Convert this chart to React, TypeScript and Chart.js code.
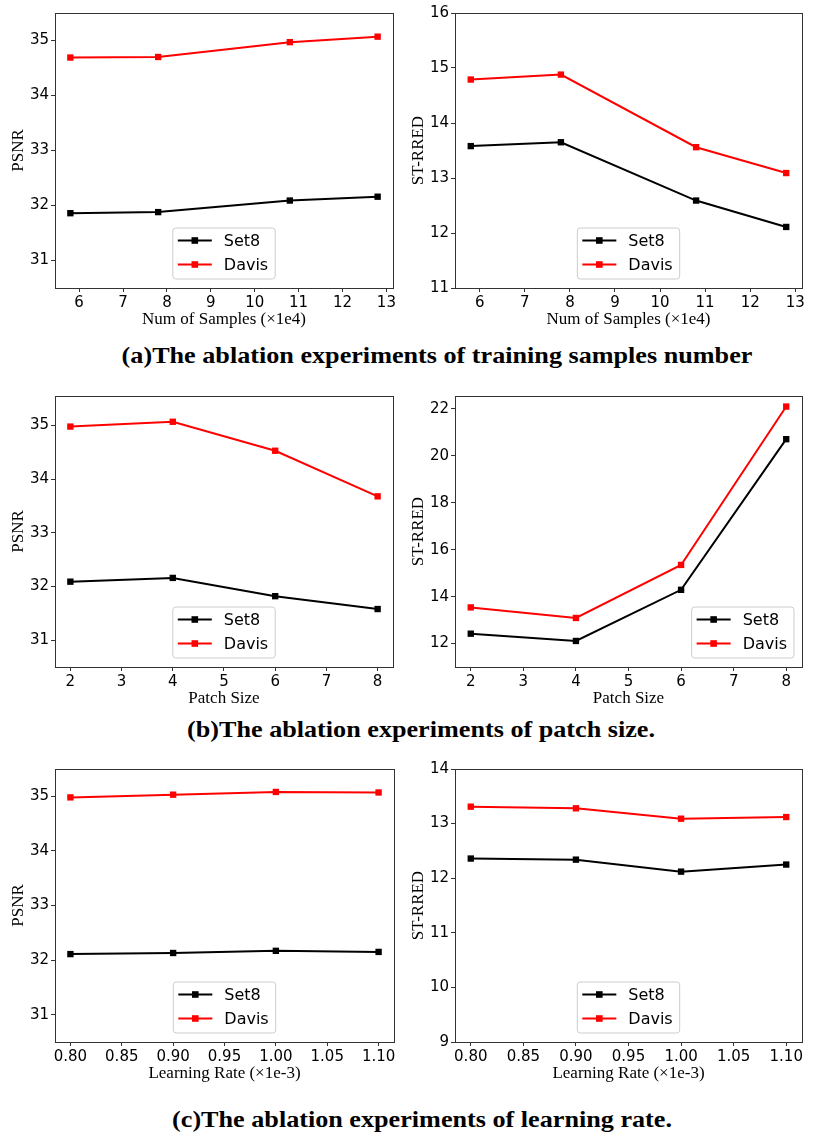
import React, { useEffect, useRef } from 'react';
import { Chart, registerables } from 'chart.js';

Chart.register(...registerables);

// ---------- data ----------
const seriesNames = ['Set8', 'Davis'];
const seriesColors = ['#000000', '#ff0000'];

const samplesX = [5.8, 7.8, 10.8, 12.8];
const samplesPsnrSet8 = [31.86, 31.88, 32.09, 32.16];
const samplesPsnrDavis = [34.69, 34.7, 34.97, 35.07];
const samplesRredSet8 = [13.58, 13.65, 12.59, 12.11];
const samplesRredDavis = [14.79, 14.88, 13.56, 13.09];

const patchX = [2, 4, 6, 8];
const patchPsnrSet8 = [32.09, 32.16, 31.82, 31.58];
const patchPsnrDavis = [34.98, 35.07, 34.53, 33.68];
const patchRredSet8 = [12.42, 12.11, 14.29, 20.71];
const patchRredDavis = [13.54, 13.09, 15.35, 22.1];

const lrX = [0.8, 0.9, 1.0, 1.1];
const lrPsnrSet8 = [32.11, 32.13, 32.17, 32.15];
const lrPsnrDavis = [34.98, 35.03, 35.08, 35.07];
const lrRredSet8 = [12.36, 12.34, 12.12, 12.25];
const lrRredDavis = [13.31, 13.28, 13.09, 13.12];

const samplesXTicks = [6, 7, 8, 9, 10, 11, 12, 13];
const patchXTicks = [2, 3, 4, 5, 6, 7, 8];
const lrXTicks = [0.8, 0.85, 0.9, 0.95, 1.0, 1.05, 1.1];
const psnrYTicks = [31, 32, 33, 34, 35];
const samplesRredYTicks = [11, 12, 13, 14, 15, 16];
const patchRredYTicks = [12, 14, 16, 18, 20, 22];
const lrRredYTicks = [9, 10, 11, 12, 13, 14];

const captions = [
  '(a)The ablation experiments of training samples number',
  '(b)The ablation experiments of patch size.',
  '(c)The ablation experiments of learning rate.',
];

// ---------- plugins ----------
const framePlugin = {
  id: 'frame',
  afterDatasetsDraw(chart: any) {
    const { ctx, chartArea: ca } = chart;
    ctx.save();
    ctx.strokeStyle = '#333';
    ctx.lineWidth = 1;
    const l = Math.round(ca.left) + 0.5;
    const t = Math.round(ca.top) + 0.5;
    const r = Math.round(ca.right) + 0.5;
    const b = Math.round(ca.bottom) + 0.5;
    ctx.strokeRect(l, t, r - l, b - t);
    ctx.restore();
  },
};

const boxLegendPlugin = {
  id: 'boxLegend',
  afterDraw(chart: any, _args: any, opts: any) {
    const { ctx, chartArea: ca } = chart;
    ctx.save();
    ctx.font = '16px "DejaVu Sans"';
    const items = chart.data.datasets.map((d: any) => ({ label: d.label, color: d.borderColor }));
    const textW = Math.max(...items.map((i: any) => ctx.measureText(i.label).width));
    const boxW = 51 + textW + 7;
    const boxH = 51;
    const left = opts.position === 'right' ? ca.right - 8 - boxW : (ca.left + ca.right) / 2 - boxW / 2;
    const top = ca.bottom - 9 - boxH;
    ctx.beginPath();
    const rr = 3;
    ctx.moveTo(left + rr, top);
    ctx.arcTo(left + boxW, top, left + boxW, top + boxH, rr);
    ctx.arcTo(left + boxW, top + boxH, left, top + boxH, rr);
    ctx.arcTo(left, top + boxH, left, top, rr);
    ctx.arcTo(left, top, left + boxW, top, rr);
    ctx.closePath();
    ctx.fillStyle = 'rgba(255,255,255,0.8)';
    ctx.fill();
    ctx.strokeStyle = '#cccccc';
    ctx.lineWidth = 1;
    ctx.stroke();
    items.forEach((it: any, i: number) => {
      const cy = top + 12.5 + 24 * i;
      ctx.strokeStyle = it.color;
      ctx.lineWidth = 2;
      ctx.beginPath();
      ctx.moveTo(left + 5, cy);
      ctx.lineTo(left + 39, cy);
      ctx.stroke();
      ctx.fillStyle = it.color;
      ctx.fillRect(left + 22 - 3.3, cy - 3.3, 6.6, 6.6);
      ctx.fillStyle = '#000';
      ctx.textBaseline = 'middle';
      ctx.textAlign = 'left';
      ctx.fillText(it.label, left + 51, cy + 1);
    });
    ctx.restore();
  },
};

// ---------- chart specs ----------
type Spec = {
  left: number; top: number; w: number; h: number; rightPad: number;
  x: number[]; set8: number[]; davis: number[];
  xTicks: number[]; yTicks: number[]; xDec: number;
  xMin: number; xMax: number; yMin: number; yMax: number;
  xTitle: string; yTitle: string; legendPos: string;
};

const specs: Spec[] = [
  { left: 0, top: 0, w: 400, h: 335, rightPad: 7, x: samplesX, set8: samplesPsnrSet8, davis: samplesPsnrDavis,
    xTicks: samplesXTicks, yTicks: psnrYTicks, xDec: 0, xMin: 5.45, xMax: 13.15, yMin: 30.5, yMax: 35.5,
    xTitle: 'Num of Samples (×1e4)', yTitle: 'PSNR', legendPos: 'center' },
  { left: 400, top: 0, w: 430, h: 335, rightPad: 28, x: samplesX, set8: samplesRredSet8, davis: samplesRredDavis,
    xTicks: samplesXTicks, yTicks: samplesRredYTicks, xDec: 0, xMin: 5.45, xMax: 13.15, yMin: 11, yMax: 16,
    xTitle: 'Num of Samples (×1e4)', yTitle: 'ST-RRED', legendPos: 'center' },
  { left: 0, top: 383, w: 400, h: 331, rightPad: 7, x: patchX, set8: patchPsnrSet8, davis: patchPsnrDavis,
    xTicks: patchXTicks, yTicks: psnrYTicks, xDec: 0, xMin: 1.7, xMax: 8.3, yMin: 30.5, yMax: 35.55,
    xTitle: 'Patch Size', yTitle: 'PSNR', legendPos: 'center' },
  { left: 400, top: 383, w: 430, h: 331, rightPad: 28, x: patchX, set8: patchRredSet8, davis: patchRredDavis,
    xTicks: patchXTicks, yTicks: patchRredYTicks, xDec: 0, xMin: 1.7, xMax: 8.3, yMin: 11, yMax: 22.55,
    xTitle: 'Patch Size', yTitle: 'ST-RRED', legendPos: 'right' },
  { left: 0, top: 756, w: 400, h: 333, rightPad: 6, x: lrX, set8: lrPsnrSet8, davis: lrPsnrDavis,
    xTicks: lrXTicks, yTicks: psnrYTicks, xDec: 2, xMin: 0.785, xMax: 1.115, yMin: 30.5, yMax: 35.5,
    xTitle: 'Learning Rate (×1e-3)', yTitle: 'PSNR', legendPos: 'center' },
  { left: 400, top: 756, w: 430, h: 333, rightPad: 28, x: lrX, set8: lrRredSet8, davis: lrRredDavis,
    xTicks: lrXTicks, yTicks: lrRredYTicks, xDec: 2, xMin: 0.785, xMax: 1.115, yMin: 9, yMax: 14,
    xTitle: 'Learning Rate (×1e-3)', yTitle: 'ST-RRED', legendPos: 'center' },
];

const tickFont = { family: '"DejaVu Sans"', size: 15 };
const titleFont = { family: '"Liberation Serif", "Times New Roman", serif', size: 17 };

function LineChart({ spec }: { spec: Spec }) {
  const ref = useRef<HTMLCanvasElement | null>(null);
  useEffect(() => {
    if (!ref.current) return;
    const series = [spec.set8, spec.davis];
    const chart = new Chart(ref.current, {
      type: 'line',
      data: {
        datasets: series.map((vals, si) => ({
          label: seriesNames[si],
          data: spec.x.map((xv, i) => ({ x: xv, y: vals[i] })),
          borderColor: seriesColors[si],
          backgroundColor: seriesColors[si],
          pointBackgroundColor: seriesColors[si],
          pointBorderColor: seriesColors[si],
          pointStyle: 'rect',
          pointRadius: 4.5,
          pointBorderWidth: 0,
          borderWidth: 2,
          tension: 0,
          clip: false,
        })),
      },
      options: {
        animation: false,
        responsive: false,
        devicePixelRatio: 1,
        layout: { padding: { top: 13, right: spec.rightPad, left: 0, bottom: 0 } },
        plugins: {
          legend: { display: false },
          tooltip: { enabled: false },
          boxLegend: { position: spec.legendPos },
        } as any,
        scales: {
          x: {
            type: 'linear',
            min: spec.xMin,
            max: spec.xMax,
            afterBuildTicks: (scale: any) => {
              scale.ticks = spec.xTicks.map((v) => ({ value: v }));
            },
            afterFit: (scale: any) => {
              scale.height = 47;
            },
            border: { display: false },
            grid: { drawOnChartArea: false, drawTicks: true, tickLength: 4, color: '#333', lineWidth: 1 },
            ticks: {
              autoSkip: false,
              maxRotation: 0,
              padding: 2,
              color: '#000',
              font: tickFont,
              callback: (v: any) => Number(v).toFixed(spec.xDec),
            },
            title: { display: true, text: spec.xTitle, color: '#000', font: titleFont, padding: { top: 0, bottom: 5 } },
          },
          y: {
            type: 'linear',
            min: spec.yMin,
            max: spec.yMax,
            afterBuildTicks: (scale: any) => {
              scale.ticks = spec.yTicks.map((v) => ({ value: v }));
            },
            afterFit: (scale: any) => {
              scale.width = 55;
            },
            border: { display: false },
            grid: { drawOnChartArea: false, drawTicks: true, tickLength: 4, color: '#333', lineWidth: 1 },
            ticks: {
              autoSkip: false,
              padding: 2,
              color: '#000',
              font: tickFont,
              callback: (v: any) => String(v),
            },
            title: { display: true, text: spec.yTitle, color: '#000', font: titleFont, padding: { top: 8, bottom: 0 } },
          },
        },
      } as any,
      plugins: [framePlugin, boxLegendPlugin],
    });
    return () => chart.destroy();
  }, [spec]);
  return (
    <canvas
      ref={ref}
      width={spec.w}
      height={spec.h}
      style={{ position: 'absolute', left: spec.left, top: spec.top, width: spec.w, height: spec.h }}
    />
  );
}

const captionBaselines = [363, 737, 1127];
const captionCenters = [437, 421, 422];

export default function App() {
  return (
    <div style={{ position: 'absolute', left: 0, top: 0, width: 830, height: 1146, background: '#fff', overflow: 'hidden' }}>
      {specs.map((s, i) => (
        <LineChart key={i} spec={s} />
      ))}
      {captions.map((c, i) => (
        <div
          key={c}
          style={{
            position: 'absolute',
            left: captionCenters[i],
            top: captionBaselines[i] - 20.1,
            transform: 'translateX(-50%) scaleX(1.09)',
            whiteSpace: 'nowrap',
            fontFamily: '"Liberation Serif", "Times New Roman", serif',
            fontWeight: 'bold',
            fontSize: 24,
            lineHeight: 1,
            color: '#000',
          }}
        >
          {c}
        </div>
      ))}
    </div>
  );
}
